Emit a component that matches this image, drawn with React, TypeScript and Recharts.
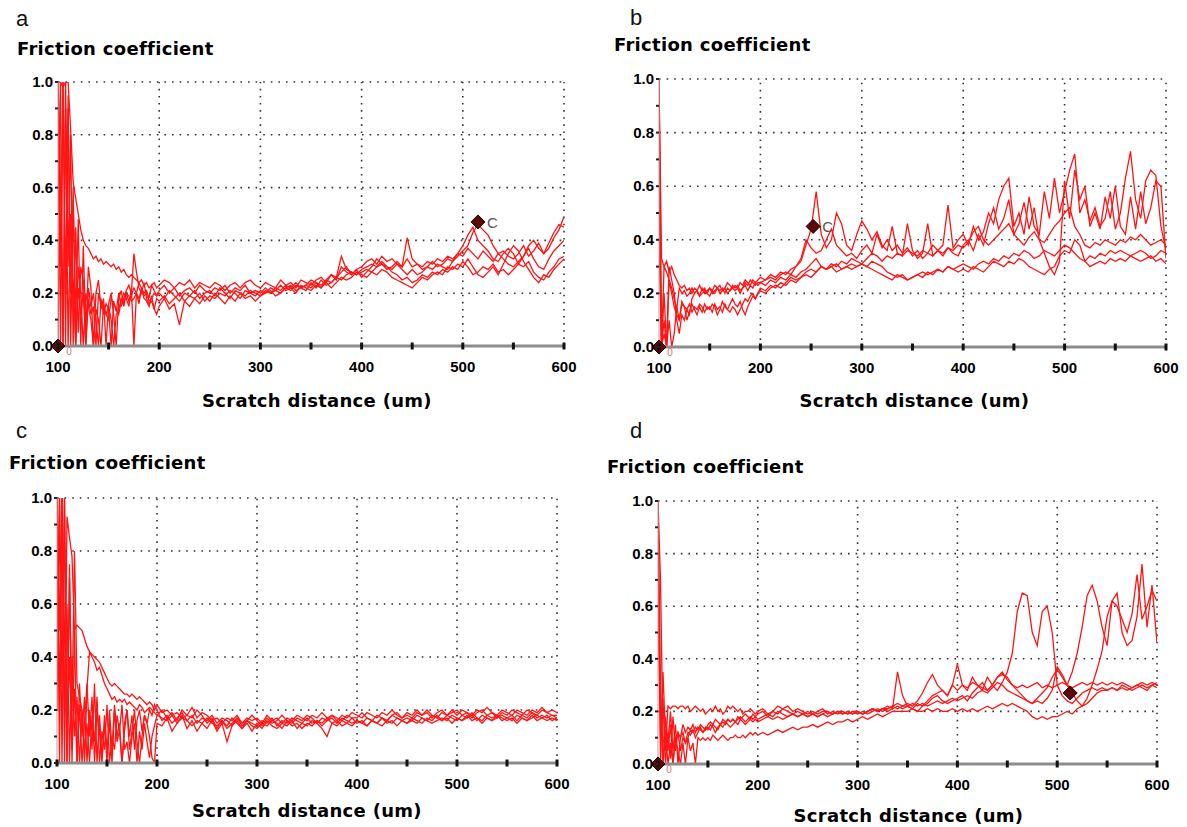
import React from 'react';
import { LineChart, Line, XAxis, YAxis, ReferenceLine, ReferenceDot, Label } from 'recharts';

// Scratch distance sample positions (um)
const X_UM = [
  100, 102.5, 105, 107.5, 110, 112.5, 115, 117.5, 120, 122.5,
  125, 127.5, 130, 132.5, 135, 137.5, 140, 142.5, 145, 147.5,
  150, 152.5, 155, 157.5, 160, 162.5, 165, 167.5, 170, 172.5,
  175, 177.5, 180, 182.5, 185, 187.5, 190, 192.5, 195, 197.5,
  200, 205, 210, 215, 220, 225, 230, 235, 240, 245,
  250, 255, 260, 265, 270, 275, 280, 285, 290, 295,
  300, 305, 310, 315, 320, 325, 330, 335, 340, 345,
  350, 355, 360, 365, 370, 375, 380, 385, 390, 395,
  400, 405, 410, 415, 420, 425, 430, 435, 440, 445,
  450, 455, 460, 465, 470, 475, 480, 485, 490, 495,
  500, 505, 510, 515, 520, 525, 530, 535, 540, 545,
  550, 555, 560, 565, 570, 575, 580, 585, 590, 595,
  600,
];

// ---------- Panel a ----------
const A1 = [
  0, 1.0, 0.98, 1.0, 1.0, 0.82, 0.62, 0.56, 0.5, 0.44,
  0.4, 0.38, 0.37, 0.35, 0.33, 0.34, 0.32, 0.33, 0.31, 0.32,
  0.31, 0.3, 0.31, 0.29, 0.3, 0.28, 0.29, 0.27, 0.26, 0.27,
  0.26, 0.25, 0.24, 0.25, 0.23, 0.24, 0.22, 0.23, 0.24, 0.22,
  0.23, 0.25, 0.24, 0.22, 0.24, 0.23, 0.25, 0.22, 0.24, 0.23,
  0.22, 0.24, 0.23, 0.21, 0.23, 0.24, 0.22, 0.24, 0.25, 0.23,
  0.22, 0.24, 0.23, 0.22, 0.25, 0.23, 0.24, 0.22, 0.25, 0.24,
  0.23, 0.25, 0.26, 0.24, 0.27, 0.26, 0.34, 0.29, 0.28, 0.27,
  0.29, 0.3, 0.31, 0.3, 0.32, 0.3, 0.29, 0.31, 0.3, 0.33,
  0.3, 0.31, 0.29, 0.3, 0.32, 0.3, 0.31, 0.33, 0.32, 0.34,
  0.36, 0.38, 0.43, 0.46, 0.44, 0.42, 0.38, 0.35, 0.36, 0.34,
  0.33, 0.35, 0.38, 0.34, 0.36, 0.39, 0.35, 0.37, 0.41, 0.44,
  0.49,
];
const A2 = [
  1.0, 0, 1.0, 0.2, 0.95, 0, 0.55, 0.1, 0.48, 0,
  0.38, 0.05, 0.3, 0.22, 0, 0.2, 0.25, 0.14, 0.18, 0,
  0.16, 0.2, 0.12, 0, 0.18, 0.21, 0.15, 0.2, 0.19, 0.17,
  0.18, 0.2, 0.16, 0.22, 0.18, 0.17, 0.15, 0.19, 0.14, 0.18,
  0.17, 0.19, 0.16, 0.18, 0.2, 0.17, 0.19, 0.18, 0.2, 0.17,
  0.19, 0.18, 0.2, 0.19, 0.21, 0.2, 0.18, 0.21, 0.2, 0.19,
  0.21, 0.2, 0.22, 0.21, 0.2, 0.22, 0.23, 0.21, 0.22, 0.23,
  0.22, 0.24, 0.23, 0.25, 0.24, 0.26, 0.25, 0.27, 0.28, 0.27,
  0.28, 0.29, 0.28, 0.3, 0.31, 0.29, 0.3, 0.32, 0.3, 0.41,
  0.33, 0.31, 0.3, 0.32, 0.31, 0.33, 0.32, 0.34, 0.33, 0.35,
  0.34, 0.37, 0.35, 0.33, 0.36, 0.34, 0.32, 0.35, 0.33, 0.31,
  0.3, 0.32, 0.34, 0.37, 0.33, 0.3, 0.29, 0.33, 0.36, 0.38,
  0.4,
];
const A3 = [
  0.5, 1.0, 0, 1.0, 0.3, 0.8, 0, 0.45, 0.05, 0.3,
  0.25, 0, 0.22, 0.15, 0.2, 0.1, 0, 0.18, 0.12, 0.16,
  0.14, 0, 0.17, 0.13, 0.2, 0.15, 0.18, 0.21, 0.23, 0.2,
  0.35, 0.28, 0.22, 0.2, 0.24, 0.18, 0.16, 0.17, 0.14, 0.12,
  0.15, 0.18, 0.14, 0.16, 0.08, 0.17, 0.15, 0.18, 0.16, 0.19,
  0.17, 0.2, 0.18, 0.16, 0.19, 0.17, 0.2, 0.18, 0.19, 0.17,
  0.19, 0.2, 0.21, 0.19, 0.2, 0.22, 0.21, 0.23, 0.22, 0.21,
  0.24, 0.22, 0.25, 0.23, 0.24, 0.26, 0.28, 0.3, 0.27, 0.29,
  0.26, 0.28, 0.3, 0.33, 0.31, 0.3, 0.28, 0.27, 0.25, 0.26,
  0.24, 0.25, 0.27, 0.26, 0.28, 0.27, 0.29, 0.28, 0.3, 0.29,
  0.32, 0.3, 0.27, 0.28, 0.3, 0.29, 0.31, 0.28, 0.29, 0.27,
  0.29, 0.31, 0.3, 0.32, 0.28, 0.26, 0.25, 0.28, 0.3, 0.33,
  0.34,
];
const A4 = [
  1.0, 0.3, 1.0, 0, 0.9, 0.2, 0.6, 0, 0.3, 0.2,
  0, 0.2, 0.15, 0.1, 0, 0.14, 0.1, 0, 0.16, 0.12,
  0.15, 0.1, 0, 0.12, 0.14, 0.18, 0.16, 0.2, 0.17, 0.19,
  0.22, 0.2, 0.18, 0.21, 0.19, 0.2, 0.17, 0.18, 0.2, 0.19,
  0.2, 0.18, 0.21, 0.19, 0.17, 0.2, 0.19, 0.21, 0.18, 0.2,
  0.21, 0.19, 0.22, 0.2, 0.18, 0.21, 0.2, 0.19, 0.21, 0.2,
  0.19, 0.21, 0.2, 0.22, 0.21, 0.23, 0.22, 0.2, 0.23, 0.22,
  0.21, 0.23, 0.22, 0.24, 0.22, 0.24, 0.26, 0.25, 0.26, 0.28,
  0.27, 0.26, 0.28, 0.27, 0.29, 0.28, 0.26, 0.25, 0.24, 0.23,
  0.22, 0.24, 0.26, 0.25, 0.27, 0.28, 0.27, 0.3, 0.29, 0.31,
  0.3, 0.33, 0.3, 0.27, 0.26, 0.28, 0.3, 0.27, 0.31, 0.35,
  0.38, 0.36, 0.32, 0.29, 0.26, 0.24, 0.27, 0.26, 0.29, 0.31,
  0.33,
];
const A5 = [
  1.0, 0.6, 0, 0.9, 0, 0.5, 0.25, 0, 0.22, 0.12,
  0.2, 0, 0.18, 0.12, 0.15, 0, 0.2, 0.16, 0.14, 0.12,
  0.1, 0.18, 0.16, 0.14, 0.12, 0.17, 0.2, 0.18, 0.15, 0.22,
  0, 0.2, 0.24, 0.22, 0.2, 0.21, 0.18, 0.23, 0.21, 0.19,
  0.21, 0.23, 0.2, 0.22, 0.19, 0.21, 0.22, 0.2, 0.23, 0.21,
  0.2, 0.22, 0.21, 0.23, 0.2, 0.22, 0.21, 0.23, 0.2, 0.21,
  0.2, 0.22, 0.2, 0.21, 0.23, 0.21, 0.22, 0.24, 0.22, 0.23,
  0.25, 0.24, 0.22, 0.25, 0.27, 0.25, 0.3, 0.28, 0.27, 0.29,
  0.3, 0.32, 0.33, 0.31, 0.34, 0.32, 0.33, 0.31, 0.29, 0.27,
  0.29, 0.27, 0.28, 0.3, 0.29, 0.31, 0.3, 0.29, 0.32, 0.35,
  0.38, 0.42, 0.45, 0.4, 0.38, 0.36, 0.33, 0.32, 0.35, 0.37,
  0.35, 0.31, 0.34, 0.38, 0.4, 0.37, 0.35, 0.39, 0.43, 0.46,
  0.45,
];

// ---------- Panel b ----------
const B1 = [
  1.0, 0.33, 0.3, 0.32, 0.28, 0.3, 0.27, 0.25, 0.23, 0.22,
  0.23, 0.21, 0.22, 0.2, 0.22, 0.21, 0.23, 0.21, 0.22, 0.2,
  0.22, 0.21, 0.23, 0.22, 0.21, 0.22, 0.2, 0.22, 0.21, 0.23,
  0.22, 0.23, 0.21, 0.22, 0.24, 0.23, 0.25, 0.24, 0.23, 0.24,
  0.24, 0.25, 0.26, 0.25, 0.27, 0.28, 0.27, 0.3, 0.32, 0.38,
  0.44, 0.58, 0.42, 0.37, 0.4, 0.5, 0.46, 0.38, 0.36, 0.42,
  0.47, 0.44, 0.4, 0.43, 0.38, 0.36, 0.45, 0.35, 0.34, 0.46,
  0.36, 0.33, 0.35, 0.46, 0.34, 0.36, 0.38, 0.53, 0.37, 0.4,
  0.42, 0.38, 0.45, 0.4, 0.43, 0.5, 0.46, 0.55, 0.6, 0.63,
  0.45, 0.5, 0.42, 0.56, 0.45, 0.42, 0.58, 0.48, 0.63, 0.5,
  0.58, 0.66, 0.72, 0.5, 0.55, 0.47, 0.52, 0.45, 0.48, 0.58,
  0.44, 0.5, 0.63, 0.73, 0.55, 0.48, 0.62, 0.66, 0.64, 0.45,
  0.36,
];
const B2 = [
  0.4, 0, 0.3, 0.28, 0.25, 0.22, 0.18, 0.14, 0.22, 0.2,
  0.21, 0.19, 0.2, 0.22, 0.2, 0.21, 0.19, 0.2, 0.21, 0.2,
  0.19, 0.21, 0.2, 0.22, 0.2, 0.21, 0.22, 0.2, 0.21, 0.22,
  0.21, 0.22, 0.2, 0.22, 0.23, 0.21, 0.23, 0.22, 0.24, 0.23,
  0.24, 0.23, 0.25, 0.24, 0.26, 0.25, 0.27, 0.26, 0.28, 0.29,
  0.31, 0.33, 0.3, 0.29, 0.31, 0.3, 0.32, 0.31, 0.33, 0.32,
  0.31, 0.33, 0.35, 0.34, 0.32, 0.34, 0.33, 0.35, 0.34, 0.36,
  0.35, 0.34, 0.36, 0.35, 0.34, 0.36, 0.35, 0.37, 0.36, 0.38,
  0.37, 0.39, 0.43, 0.45, 0.4, 0.38, 0.4, 0.42, 0.44, 0.46,
  0.42, 0.4, 0.38, 0.41, 0.43, 0.4, 0.39, 0.42, 0.45, 0.47,
  0.5, 0.52, 0.45, 0.42, 0.38, 0.37, 0.39, 0.38, 0.4, 0.39,
  0.38, 0.4, 0.39, 0.41, 0.4, 0.42, 0.4, 0.38, 0.39, 0.4,
  0.38,
];
const B3 = [
  0.95, 0, 0.05, 0, 0.25, 0.2, 0.15, 0.12, 0.1, 0.16,
  0.15, 0.14, 0.16, 0.13, 0.15, 0.14, 0.16, 0.15, 0.13, 0.15,
  0.14, 0.16, 0.15, 0.12, 0.14, 0.17, 0.15, 0.14, 0.16, 0.18,
  0.16, 0.15, 0.17, 0.14, 0.12, 0.15, 0.17, 0.19, 0.18, 0.2,
  0.22, 0.21, 0.23, 0.22, 0.24, 0.23, 0.25, 0.24, 0.26, 0.27,
  0.26, 0.28, 0.3, 0.29, 0.3, 0.31, 0.29, 0.3, 0.31, 0.3,
  0.31, 0.3, 0.32, 0.31, 0.3, 0.28, 0.27, 0.26, 0.27, 0.25,
  0.26, 0.27, 0.26, 0.28, 0.27, 0.29, 0.28, 0.3, 0.29, 0.3,
  0.31, 0.3, 0.29, 0.31, 0.32, 0.31, 0.33, 0.32, 0.34, 0.33,
  0.35, 0.34, 0.36, 0.35, 0.33, 0.34, 0.36, 0.35, 0.34, 0.36,
  0.38, 0.37, 0.35, 0.33, 0.32, 0.34, 0.33, 0.35, 0.34, 0.36,
  0.35, 0.36, 0.35, 0.34, 0.35, 0.36, 0.35, 0.33, 0.34, 0.36,
  0.35,
];
const B4 = [
  0.6, 0, 0.2, 0, 0.1, 0, 0.05, 0.15, 0.1, 0.17,
  0.15, 0.1, 0.13, 0.16, 0.14, 0.12, 0.15, 0.13, 0.16, 0.14,
  0.15, 0.13, 0.16, 0.14, 0.15, 0.13, 0.16, 0.14, 0.13, 0.15,
  0.14, 0.12, 0.14, 0.16, 0.18, 0.17, 0.19, 0.2, 0.18, 0.2,
  0.21, 0.2, 0.22, 0.23, 0.22, 0.24, 0.26, 0.25, 0.26, 0.28,
  0.29, 0.28, 0.3, 0.29, 0.3, 0.28, 0.29, 0.3, 0.29, 0.3,
  0.31, 0.3, 0.29, 0.28, 0.27, 0.26, 0.25, 0.27, 0.26, 0.25,
  0.26, 0.27, 0.28, 0.27, 0.28, 0.29, 0.28, 0.3, 0.29, 0.28,
  0.29, 0.28, 0.3, 0.29, 0.28, 0.3, 0.32, 0.31, 0.3, 0.32,
  0.31, 0.33, 0.32, 0.3, 0.29, 0.28, 0.27, 0.29, 0.3, 0.34,
  0.36, 0.35, 0.4, 0.38, 0.32, 0.3, 0.31, 0.32, 0.31, 0.33,
  0.32, 0.33, 0.32, 0.34, 0.33, 0.32, 0.33, 0.34, 0.32, 0.33,
  0.31,
];
const B5 = [
  1.0, 0, 0.1, 0, 0.3, 0.25, 0.2, 0.1, 0.05, 0.12,
  0.1, 0.14, 0.12, 0.18, 0.2, 0.21, 0.19, 0.22, 0.2, 0.21,
  0.22, 0.2, 0.21, 0.22, 0.23, 0.21, 0.22, 0.24, 0.23, 0.22,
  0.23, 0.22, 0.24, 0.23, 0.25, 0.24, 0.23, 0.25, 0.24, 0.25,
  0.26, 0.25, 0.27, 0.26, 0.28, 0.27, 0.29, 0.3, 0.33, 0.4,
  0.37, 0.35, 0.36, 0.4, 0.44, 0.38, 0.36, 0.34, 0.35, 0.33,
  0.36, 0.38, 0.35, 0.42, 0.37, 0.4, 0.36, 0.38, 0.35, 0.37,
  0.34, 0.36, 0.33, 0.35, 0.38, 0.36, 0.34, 0.37, 0.35, 0.34,
  0.38, 0.4, 0.36, 0.42, 0.38, 0.46, 0.52, 0.44, 0.48, 0.55,
  0.42, 0.46, 0.54, 0.44, 0.52, 0.4, 0.35, 0.3, 0.27, 0.32,
  0.62, 0.48, 0.66, 0.55, 0.6, 0.45, 0.5, 0.44, 0.56, 0.48,
  0.6, 0.45, 0.42, 0.56, 0.44, 0.58, 0.46, 0.52, 0.62, 0.6,
  0.33,
];

// ---------- Panel c ----------
const C1 = [
  1.0, 0.2, 1.0, 0, 0.93, 0.85, 0.78, 0.5, 0.52, 0.51,
  0.5, 0.47, 0.44, 0.42, 0.41, 0.4, 0.39, 0.38, 0.36, 0.34,
  0.32, 0.3, 0.29, 0.3, 0.29, 0.28, 0.27, 0.26, 0.26, 0.25,
  0.26, 0.25, 0.24, 0.25, 0.24, 0.23, 0.22, 0.23, 0.22, 0.2,
  0.22, 0.19, 0.2, 0.18, 0.19, 0.17, 0.18, 0.21, 0.17, 0.19,
  0.18, 0.16, 0.17, 0.15, 0.17, 0.16, 0.18, 0.15, 0.17, 0.16,
  0.17, 0.15, 0.18, 0.16, 0.17, 0.15, 0.17, 0.16, 0.18, 0.17,
  0.16, 0.18, 0.17, 0.19, 0.17, 0.18, 0.16, 0.18, 0.17, 0.19,
  0.18, 0.17, 0.19, 0.18, 0.17, 0.19, 0.18, 0.2, 0.18, 0.17,
  0.19, 0.18, 0.2, 0.18, 0.19, 0.17, 0.19, 0.2, 0.18, 0.19,
  0.2, 0.18, 0.19, 0.17, 0.19, 0.2, 0.18, 0.19, 0.17, 0.19,
  0.18, 0.2, 0.19, 0.18, 0.2, 0.19, 0.18, 0.2, 0.19, 0.18,
  0.17,
];
const C2 = [
  0.5, 1.0, 0.3, 1.0, 0, 0.7, 0.2, 0.8, 0.3, 0.25,
  0.2, 0, 0.28, 0.42, 0.4, 0.38, 0.35, 0.36, 0.33, 0.3,
  0.28, 0.26, 0.24, 0.25, 0.23, 0.24, 0.23, 0.24, 0.22, 0.23,
  0.22, 0.21, 0.2, 0.22, 0.21, 0.19, 0.2, 0.21, 0.2, 0.19,
  0.18, 0.17, 0.16, 0.18, 0.15, 0.17, 0.16, 0.14, 0.16, 0.15,
  0.17, 0.15, 0.14, 0.16, 0.13, 0.15, 0.17, 0.14, 0.16, 0.15,
  0.14, 0.16, 0.15, 0.17, 0.14, 0.16, 0.15, 0.17, 0.16, 0.15,
  0.17, 0.15, 0.16, 0.14, 0.16, 0.17, 0.15, 0.17, 0.16, 0.15,
  0.16, 0.15, 0.17, 0.16, 0.15, 0.17, 0.16, 0.18, 0.17, 0.16,
  0.17, 0.16, 0.18, 0.17, 0.16, 0.18, 0.17, 0.16, 0.18, 0.17,
  0.16, 0.18, 0.17, 0.19, 0.17, 0.16, 0.18, 0.17, 0.18, 0.16,
  0.17, 0.18, 0.16, 0.18, 0.17, 0.19, 0.17, 0.18, 0.17, 0.18,
  0.18,
];
const C3 = [
  1.0, 0, 1.0, 0.5, 0, 0.75, 0, 0.5, 0, 0.3,
  0.1, 0.25, 0, 0.2, 0.05, 0.3, 0, 0.18, 0.02, 0.15,
  0, 0.2, 0.05, 0.22, 0.1, 0.15, 0, 0.12, 0.2, 0.1,
  0.18, 0.05, 0.16, 0.2, 0.12, 0.18, 0.15, 0.1, 0.02, 0,
  0.15, 0.14, 0.17, 0.12, 0.15, 0.18, 0.13, 0.16, 0.12, 0.15,
  0.13, 0.16, 0.12, 0.15, 0.08, 0.14, 0.16, 0.13, 0.15, 0.12,
  0.15, 0.13, 0.16, 0.14, 0.13, 0.15, 0.14, 0.16, 0.13, 0.15,
  0.14, 0.16, 0.15, 0.13, 0.1, 0.15, 0.16, 0.14, 0.15, 0.17,
  0.15, 0.16, 0.14, 0.16, 0.15, 0.17, 0.15, 0.16, 0.14, 0.16,
  0.15, 0.17, 0.16, 0.15, 0.17, 0.16, 0.18, 0.16, 0.17, 0.15,
  0.17, 0.16, 0.18, 0.16, 0.17, 0.15, 0.17, 0.16, 0.18, 0.17,
  0.16, 0.17, 0.15, 0.17, 0.16, 0.18, 0.16, 0.17, 0.16, 0.17,
  0.16,
];
const C4 = [
  0.2, 1.0, 0, 1.0, 0.1, 0.4, 0.05, 0.28, 0, 0.22,
  0, 0.15, 0.3, 0.1, 0.25, 0, 0.2, 0.12, 0, 0.18,
  0.05, 0.15, 0, 0.2, 0.08, 0.12, 0, 0.15, 0.2, 0.05,
  0.12, 0.2, 0.08, 0, 0.1, 0.18, 0.15, 0.2, 0.18, 0.22,
  0.2, 0.16, 0.18, 0.15, 0.17, 0.19, 0.16, 0.18, 0.15, 0.17,
  0.16, 0.18, 0.15, 0.17, 0.16, 0.14, 0.17, 0.15, 0.16, 0.18,
  0.16, 0.14, 0.17, 0.15, 0.16, 0.18, 0.16, 0.15, 0.17, 0.16,
  0.18, 0.17, 0.15, 0.17, 0.16, 0.18, 0.17, 0.16, 0.18, 0.17,
  0.17, 0.19, 0.17, 0.16, 0.18, 0.17, 0.16, 0.18, 0.19, 0.17,
  0.18, 0.17, 0.19, 0.18, 0.2, 0.18, 0.17, 0.19, 0.18, 0.2,
  0.18, 0.2, 0.19, 0.18, 0.2, 0.19, 0.21, 0.19, 0.18, 0.2,
  0.19, 0.18, 0.2, 0.19, 0.18, 0.2, 0.19, 0.21, 0.19, 0.2,
  0.19,
];
const C5 = [
  1.0, 0.5, 1.0, 0.2, 0.6, 0, 0.4, 0.1, 0.25, 0,
  0.2, 0.05, 0.15, 0, 0.18, 0.08, 0.25, 0, 0.12, 0.05,
  0.22, 0, 0.1, 0.05, 0.18, 0.12, 0.22, 0.05, 0.08, 0,
  0.1, 0.15, 0, 0.12, 0.05, 0.15, 0.08, 0.02, 0.1, 0.14,
  0.18, 0.2, 0.17, 0.19, 0.16, 0.2, 0.18, 0.17, 0.2, 0.18,
  0.15, 0.17, 0.13, 0.16, 0.14, 0.17, 0.15, 0.13, 0.16, 0.14,
  0.13, 0.15, 0.14, 0.16, 0.15, 0.13, 0.16, 0.14, 0.15, 0.13,
  0.15, 0.14, 0.16, 0.15, 0.17, 0.15, 0.14, 0.16, 0.15, 0.14,
  0.16, 0.15, 0.14, 0.16, 0.15, 0.14, 0.16, 0.15, 0.17, 0.16,
  0.15, 0.16, 0.15, 0.17, 0.16, 0.15, 0.16, 0.17, 0.16, 0.18,
  0.17, 0.16, 0.17, 0.18, 0.16, 0.18, 0.17, 0.16, 0.17, 0.18,
  0.17, 0.16, 0.18, 0.17, 0.16, 0.17, 0.18, 0.17, 0.18, 0.16,
  0.17,
];

// ---------- Panel d ----------
const D1 = [
  1.0, 0.7, 0.1, 0.05, 0.22, 0.21, 0.22, 0.22, 0.21, 0.22,
  0.22, 0.21, 0.22, 0.2, 0.21, 0.22, 0.21, 0.2, 0.21, 0.19,
  0.2, 0.21, 0.2, 0.22, 0.2, 0.21, 0.19, 0.2, 0.22, 0.21,
  0.22, 0.21, 0.2, 0.21, 0.19, 0.2, 0.2, 0.21, 0.2, 0.19,
  0.2, 0.21, 0.19, 0.2, 0.22, 0.21, 0.2, 0.19, 0.2, 0.19,
  0.2, 0.19, 0.2, 0.21, 0.19, 0.2, 0.19, 0.2, 0.19, 0.2,
  0.19, 0.2, 0.19, 0.2, 0.21, 0.2, 0.21, 0.22, 0.23, 0.22,
  0.23, 0.22, 0.24, 0.27, 0.31, 0.34, 0.3, 0.28, 0.26, 0.3,
  0.28, 0.3, 0.29, 0.31, 0.3, 0.29, 0.28, 0.3, 0.33, 0.34,
  0.33, 0.3, 0.29, 0.3, 0.29, 0.3, 0.31, 0.29, 0.3, 0.29,
  0.3, 0.31, 0.3, 0.29, 0.3, 0.31, 0.3, 0.31, 0.3, 0.31,
  0.3, 0.31, 0.3, 0.31, 0.3, 0.29, 0.3, 0.31, 0.3, 0.31,
  0.3,
];
const D2 = [
  1.0, 0, 0.35, 0.1, 0.05, 0.15, 0, 0.1, 0.12, 0.05,
  0.1, 0.08, 0.12, 0.11, 0.13, 0.1, 0.12, 0.14, 0.12, 0.13,
  0.14, 0.13, 0.15, 0.14, 0.13, 0.15, 0.14, 0.16, 0.15, 0.14,
  0.15, 0.16, 0.15, 0.17, 0.16, 0.15, 0.16, 0.17, 0.16, 0.17,
  0.16, 0.17, 0.18, 0.17, 0.18, 0.17, 0.18, 0.19, 0.18, 0.19,
  0.18, 0.19, 0.18, 0.19, 0.2, 0.19, 0.2, 0.19, 0.2, 0.19,
  0.2, 0.19, 0.2, 0.21, 0.2, 0.21, 0.22, 0.21, 0.35, 0.26,
  0.22, 0.23, 0.22, 0.23, 0.22, 0.23, 0.24, 0.23, 0.24, 0.25,
  0.24, 0.25, 0.26, 0.25, 0.27, 0.28, 0.27, 0.29, 0.31, 0.3,
  0.28, 0.27, 0.26, 0.25, 0.24, 0.23, 0.25, 0.27, 0.29, 0.33,
  0.36, 0.33, 0.3, 0.35, 0.42, 0.52, 0.64, 0.68, 0.62, 0.52,
  0.45, 0.62, 0.65, 0.5, 0.45, 0.47, 0.56, 0.76, 0.52, 0.68,
  0.46,
];
const D3 = [
  0.8, 0.2, 0, 0.18, 0.08, 0.2, 0.05, 0.15, 0, 0.1,
  0.12, 0.08, 0.1, 0.13, 0.12, 0.14, 0.13, 0.15, 0.14, 0.13,
  0.15, 0.16, 0.15, 0.17, 0.16, 0.15, 0.17, 0.16, 0.17, 0.16,
  0.17, 0.16, 0.17, 0.18, 0.17, 0.16, 0.17, 0.18, 0.17, 0.18,
  0.17, 0.18, 0.19, 0.18, 0.2, 0.19, 0.18, 0.19, 0.18, 0.19,
  0.18, 0.19, 0.18, 0.19, 0.18, 0.19, 0.2, 0.19, 0.2, 0.19,
  0.2, 0.19, 0.2, 0.21, 0.2, 0.21, 0.2, 0.21, 0.22, 0.21,
  0.22, 0.21, 0.2, 0.22, 0.24, 0.26, 0.27, 0.28, 0.26, 0.3,
  0.38, 0.3, 0.28, 0.33, 0.3, 0.28, 0.33, 0.3, 0.28, 0.31,
  0.35, 0.42, 0.58, 0.65, 0.64, 0.5, 0.45, 0.58, 0.6, 0.5,
  0.3, 0.26, 0.24, 0.23, 0.25, 0.27, 0.28, 0.29, 0.28, 0.29,
  0.28, 0.29, 0.28, 0.3, 0.29, 0.28, 0.29, 0.3, 0.29, 0.3,
  0.31,
];
const D4 = [
  1.0, 0.3, 0, 0.12, 0, 0.08, 0, 0.1, 0.05, 0,
  0.08, 0, 0.1, 0.05, 0.08, 0, 0.1, 0.09, 0.1, 0.09,
  0.1, 0.09, 0.11, 0.1, 0.09, 0.1, 0.11, 0.1, 0.09, 0.1,
  0.1, 0.11, 0.1, 0.1, 0.11, 0.1, 0.11, 0.12, 0.11, 0.12,
  0.11, 0.12, 0.11, 0.12, 0.13, 0.12, 0.13, 0.14, 0.13, 0.14,
  0.14, 0.15, 0.14, 0.15, 0.16, 0.15, 0.16, 0.16, 0.17, 0.16,
  0.17, 0.18, 0.17, 0.18, 0.19, 0.18, 0.19, 0.2, 0.2, 0.2,
  0.2, 0.21, 0.2, 0.2, 0.21, 0.2, 0.21, 0.2, 0.2, 0.21,
  0.2, 0.21, 0.2, 0.21, 0.2, 0.21, 0.22, 0.21, 0.22, 0.23,
  0.22, 0.23, 0.22, 0.21, 0.2, 0.18, 0.17, 0.18, 0.17, 0.18,
  0.18, 0.19, 0.2, 0.19, 0.21, 0.22, 0.23, 0.25, 0.27, 0.28,
  0.28, 0.29, 0.28, 0.29, 0.28, 0.29, 0.3, 0.29, 0.28, 0.3,
  0.29,
];
const D5 = [
  0.6, 0.1, 0.25, 0, 0.12, 0.02, 0.18, 0.05, 0.12, 0.1,
  0.15, 0.12, 0.14, 0.13, 0.15, 0.12, 0.14, 0.13, 0.12, 0.14,
  0.13, 0.15, 0.14, 0.12, 0.14, 0.15, 0.16, 0.15, 0.17, 0.16,
  0.17, 0.16, 0.18, 0.17, 0.18, 0.19, 0.18, 0.17, 0.19, 0.18,
  0.19, 0.2, 0.18, 0.2, 0.19, 0.21, 0.22, 0.2, 0.21, 0.2,
  0.19, 0.2, 0.19, 0.2, 0.2, 0.19, 0.2, 0.2, 0.19, 0.2,
  0.2, 0.19, 0.2, 0.21, 0.2, 0.21, 0.21, 0.22, 0.21, 0.22,
  0.22, 0.21, 0.23, 0.22, 0.23, 0.25, 0.26, 0.24, 0.23, 0.24,
  0.25, 0.26, 0.24, 0.27, 0.29, 0.31, 0.28, 0.3, 0.33, 0.35,
  0.32, 0.3, 0.28, 0.26, 0.24, 0.23, 0.24, 0.23, 0.25, 0.28,
  0.37, 0.34, 0.3, 0.27, 0.24, 0.22, 0.25, 0.3, 0.36, 0.43,
  0.56, 0.62, 0.6, 0.55, 0.5, 0.57, 0.72, 0.55, 0.6, 0.66,
  0.62,
];

// Axis ticks and grid
const TICKS_X = [100, 150, 200, 250, 300, 350, 400, 450, 500, 550, 600];
const TICKS_Y = [0, 0.1, 0.2, 0.3, 0.4, 0.5, 0.6, 0.7, 0.8, 0.9, 1.0];
const GRID_X = [200, 300, 400, 500, 600];
const GRID_Y = [0.2, 0.4, 0.6, 0.8, 1.0];

// Markers (diamonds) and small annotations
const MARKERS_A = [{ x: 100, y: 0, tag: '' }, { x: 515, y: 0.47, tag: 'C' }];
const MARKERS_B = [{ x: 100, y: 0, tag: '' }, { x: 252, y: 0.45, tag: 'C' }];
const MARKERS_C: { x: number; y: number; tag: string }[] = [];
const MARKERS_D = [{ x: 100, y: 0, tag: '' }, { x: 513, y: 0.27, tag: '' }];
const ZERO_MARK_X = 111;

const TITLE_Y = 'Friction coefficient';
const TITLE_X = 'Scratch distance (um)';

const RED = '#ff1414';
const YW = 50;
const MT = 16;
const MR = 20;
const XH = 72;

function buildRows(series: number[][]) {
  return X_UM.map((x, i) => {
    const row: Record<string, number> = { x };
    series.forEach((s, k) => {
      row['s' + k] = s[i];
    });
    return row;
  });
}

const TITLE_FONT = "'DejaVu Sans', Verdana, sans-serif";
const TICK_FONT = "'Liberation Sans', Arial, sans-serif";

const XTick = (props: any) => {
  const { x, y, payload } = props;
  const v = payload.value;
  return (
    <g>
      <rect x={x - 1.5} y={y - 3.5} width={3} height={7} fill="#111" />
      {v % 100 === 0 && (
        <text x={x} y={y + 26} textAnchor="middle" fontFamily={TICK_FONT} fontWeight="bold" fontSize={15} fill="#000">
          {v}
        </text>
      )}
    </g>
  );
};

const YTick = (props: any) => {
  const { x, y, payload } = props;
  const v = Math.round(payload.value * 10);
  return (
    <g>
      <rect x={x - 3} y={y - 1} width={3} height={2} fill="#222" />
      {v % 2 === 0 && (
        <text x={x - 5} y={y + 5} textAnchor="end" fontFamily={TICK_FONT} fontWeight="bold" fontSize={15} fill="#000">
          {(v / 10).toFixed(1)}
        </text>
      )}
    </g>
  );
};

type PanelProps = {
  letter: string;
  series: number[][];
  markers: { x: number; y: number; tag: string }[];
  zeroMark: boolean;
  plotX: number;
  plotY: number;
  plotW: number;
  plotH: number;
  xTitleBase: number;
  xTitleDx: number;
  letterX: number;
  letterTop: number;
  titleX: number;
  titleTop: number;
};

const Diamond = (props: any) => {
  const { cx, cy, tag } = props;
  if (cx == null || cy == null) return null;
  const r = 7;
  return (
    <g>
      <path d={`M${cx},${cy - r} L${cx + r},${cy} L${cx},${cy + r} L${cx - r},${cy} Z`} fill="#5a0808" stroke="#1a0000" strokeWidth={1} />
      {tag ? (
        <text x={cx + 9} y={cy + 6} fontFamily={TICK_FONT} fontSize={15} fill="#555">
          {tag}
        </text>
      ) : null}
    </g>
  );
};

const ZeroGlyph = (props: any) => {
  const { cx, cy } = props;
  if (cx == null || cy == null) return null;
  return (
    <text x={cx} y={cy + 9} textAnchor="middle" fontFamily={TICK_FONT} fontSize={10} fill="#e07070">
      0
    </text>
  );
};

function Panel(p: PanelProps) {
  const rows = buildRows(p.series);
  const width = p.plotW + YW + MR;
  const height = p.plotH + MT + XH;
  return (
    <>
      <div
        style={{
          position: 'absolute',
          left: p.letterX,
          top: p.letterTop,
          fontFamily: TICK_FONT,
          fontSize: 22,
          lineHeight: '22px',
          color: '#111',
        }}
      >
        {p.letter}
      </div>
      <div
        style={{
          position: 'absolute',
          left: p.titleX,
          top: p.titleTop,
          fontFamily: TITLE_FONT,
          fontWeight: 'bold',
          fontSize: 18,
          letterSpacing: '0.3px',
          lineHeight: '18px',
          color: '#000',
          whiteSpace: 'nowrap',
        }}
      >
        {TITLE_Y}
      </div>
      <div style={{ position: 'absolute', left: p.plotX - YW, top: p.plotY - MT }}>
        <LineChart width={width} height={height} data={rows} margin={{ top: MT, right: MR, left: 0, bottom: 0 }}>
          {GRID_X.map((g) => (
            <ReferenceLine key={'gx' + g} x={g} stroke="#333" strokeWidth={1.6} strokeDasharray="1.6 5.5" ifOverflow="visible" />
          ))}
          {GRID_Y.map((g) => (
            <ReferenceLine key={'gy' + g} y={g} stroke="#333" strokeWidth={1.6} strokeDasharray="1.6 6" ifOverflow="visible" />
          ))}
          <XAxis
            dataKey="x"
            type="number"
            domain={[100, 600]}
            ticks={TICKS_X}
            interval={0}
            tickSize={0}
            tickMargin={0}
            tickLine={false}
            tick={<XTick />}
            height={XH}
            axisLine={{ stroke: '#8c8c8c', strokeWidth: 3 }}
            allowDataOverflow
          >
            <Label
              content={(lp: any) => {
                const vb = lp.viewBox || {};
                return (
                  <text
                    x={vb.x + vb.width / 2 + p.xTitleDx}
                    y={vb.y + p.xTitleBase}
                    textAnchor="middle"
                    fontFamily={TITLE_FONT}
                    fontWeight="bold"
                    fontSize={18}
                    letterSpacing="0.3px"
                    fill="#000"
                  >
                    {TITLE_X}
                  </text>
                );
              }}
            />
          </XAxis>
          <YAxis
            type="number"
            domain={[0, 1]}
            ticks={TICKS_Y}
            interval={0}
            width={YW}
            tickSize={0}
            tickMargin={0}
            tickLine={false}
            tick={<YTick />}
            axisLine={{ stroke: '#aaa', strokeWidth: 1 }}
            allowDataOverflow
          />
          {p.series.map((_, k) => (
            <Line
              key={'s' + k}
              dataKey={'s' + k}
              type="linear"
              stroke={RED}
              strokeWidth={1.3}
              dot={false}
              activeDot={false}
              isAnimationActive={false}
            />
          ))}
          {p.zeroMark && (
            <ReferenceDot x={ZERO_MARK_X} y={0} r={0} ifOverflow="visible" shape={(sp: any) => <ZeroGlyph {...sp} />} />
          )}
          {p.markers.map((m, i) => (
            <ReferenceDot
              key={'m' + i}
              x={m.x}
              y={m.y}
              r={7}
              ifOverflow="visible"
              shape={(sp: any) => <Diamond {...sp} tag={m.tag} />}
            />
          ))}
        </LineChart>
      </div>
    </>
  );
}

export default function App() {
  return (
    <div style={{ position: 'absolute', left: 0, top: 0, width: 1187, height: 827, background: '#fff', overflow: 'hidden' }}>
      <Panel
        letter="a"
        series={[A1, A2, A3, A4, A5]}
        markers={MARKERS_A}
        zeroMark
        plotX={58}
        plotY={82}
        plotW={506}
        plotH={264}
        xTitleBase={61}
        xTitleDx={6}
        letterX={16}
        letterTop={8}
        titleX={17}
        titleTop={40}
      />
      <Panel
        letter="b"
        series={[B1, B2, B3, B4, B5]}
        markers={MARKERS_B}
        zeroMark
        plotX={659}
        plotY={79}
        plotW={507}
        plotH={268}
        xTitleBase={60}
        xTitleDx={2}
        letterX={630}
        letterTop={7}
        titleX={614}
        titleTop={36}
      />
      <Panel
        letter="c"
        series={[C1, C2, C3, C4, C5]}
        markers={MARKERS_C}
        zeroMark={false}
        plotX={57}
        plotY={498}
        plotW={500}
        plotH={265}
        xTitleBase={54}
        xTitleDx={0}
        letterX={16}
        letterTop={420}
        titleX={9}
        titleTop={454}
      />
      <Panel
        letter="d"
        series={[D1, D2, D3, D4, D5]}
        markers={MARKERS_D}
        zeroMark
        plotX={658}
        plotY={501}
        plotW={499}
        plotH={263}
        xTitleBase={58}
        xTitleDx={1}
        letterX={630}
        letterTop={420}
        titleX={607}
        titleTop={458}
      />
    </div>
  );
}
